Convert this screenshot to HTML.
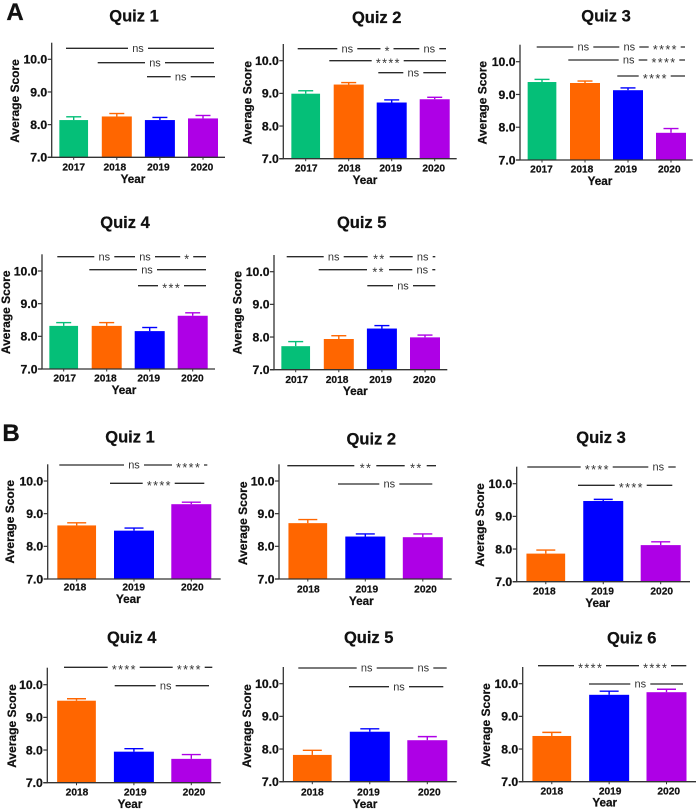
<!DOCTYPE html>
<html lang="en">
<head>
<meta charset="utf-8">
<title>Average quiz scores by year</title>
<style>
html,body{margin:0;padding:0;background:#fff}
svg{display:block;font-family:"Liberation Sans",Arial,sans-serif}
</style>
</head>
<body>
<svg id="figure" xmlns="http://www.w3.org/2000/svg" width="697" height="809" viewBox="0 0 697 809">
<rect width="697" height="809" fill="#fff"/>
<text x="15" y="20" font-size="24" font-weight="bold" text-anchor="middle" fill="#111" stroke="#111" stroke-width="0.3">A</text>
<text x="11" y="441" font-size="24" font-weight="bold" text-anchor="middle" fill="#111" stroke="#111" stroke-width="0.3">B</text>
</svg>
<script>
// ---- Chart data ----
const yearsFour = ["2017", "2018", "2019", "2020"];
const yearsThree = ["2018", "2019", "2020"];
const yTickValues = [7, 8, 9, 10];
const yTickLabels = ["7.0", "8.0", "9.0", "10.0"];

const a1Means = [8.14, 8.25, 8.14, 8.19];
const a1Errors = [0.10, 0.09, 0.08, 0.09];
const a2Means = [8.99, 9.27, 8.72, 8.82];
const a2Errors = [0.09, 0.06, 0.08, 0.06];
const a3Means = [9.38, 9.35, 9.13, 7.83];
const a3Errors = [0.08, 0.06, 0.07, 0.13];
const a4Means = [8.32, 8.32, 8.16, 8.63];
const a4Errors = [0.10, 0.10, 0.11, 0.09];
const a5Means = [7.72, 7.94, 8.26, 7.99];
const a5Errors = [0.14, 0.10, 0.09, 0.07];

const b1Means = [8.64, 8.48, 9.29];
const b1Errors = [0.08, 0.08, 0.06];
const b2Means = [8.71, 8.30, 8.28];
const b2Errors = [0.11, 0.08, 0.10];
const b3Means = [7.86, 9.47, 8.12];
const b3Errors = [0.11, 0.05, 0.10];
const b4Means = [9.51, 7.95, 7.73];
const b4Errors = [0.06, 0.09, 0.13];
const b5Means = [7.82, 8.53, 8.27];
const b5Errors = [0.14, 0.09, 0.11];
const b6Means = [8.40, 9.66, 9.74];
const b6Errors = [0.11, 0.11, 0.09];

const yearColors = {"2017": "#05BF78", "2018": "#FF6600", "2019": "#0000FF", "2020": "#AE00E6"};

// ---- Panel layout (pixels), separate from the data ----
const panels = [
 {id:"a-quiz-1", title:"Quiz 1", cats:yearsFour, means:a1Means, errors:a1Errors,
  ax:51.7, right:225, top:42.7, y7:157.3, y10:59.3, c0:73.7, step:43.1, barW:30, capW:15,
  titleX:134, titleY:15.7, yTitleX:14.7, yTitleY:101, yearX:133, yearY:179, tickY:166.7, tickDx:[0,-2,-1.5,-1],
  brackets:[{y:48.3,x1:66,x2:214,labels:[["ns",138]]},{y:62.7,x1:97.7,x2:214,labels:[["ns",155]]},{y:76.7,x1:147,x2:215,labels:[["ns",180.7]]}]},
 {id:"a-quiz-2", title:"Quiz 2", cats:yearsFour, means:a2Means, errors:a2Errors,
  ax:283.3, right:456.7, top:44, y7:158.7, y10:60.7, c0:305.7, step:43, barW:30, capW:15,
  titleX:376.7, titleY:17.3, yTitleX:247.3, yTitleY:102.7, yearX:365, yearY:180, tickY:168, tickDx:[0.5,0.5,-1,-1],
  brackets:[{y:48.7,x1:297.7,x2:446,labels:[["ns",347.3],["*",387],["ns",429.3]]},{y:60.7,x1:329.3,x2:446,labels:[["****",387.7]]},{y:72.7,x1:378.3,x2:446,labels:[["ns",413.3]]}]},
 {id:"a-quiz-3", title:"Quiz 3", cats:yearsFour, means:a3Means, errors:a3Errors,
  ax:520, right:692.7, top:44.7, y7:160, y10:61.7, c0:542, step:43, barW:30, capW:15,
  titleX:606, titleY:15.7, yTitleX:482.3, yTitleY:102.7, yearX:600, yearY:180.7, tickY:168.7, tickDx:[-0.5,-3,-2.3,-1.7],
  brackets:[{y:47,x1:536.7,x2:685,labels:[["ns",583.3],["ns",629.3],["****",664.7]]},{y:60,x1:568.3,x2:685,labels:[["ns",628.7],["****",663.3]]},{y:76,x1:617.3,x2:685,labels:[["****",654.7]]}]},
 {id:"a-quiz-4", title:"Quiz 4", cats:yearsFour, means:a4Means, errors:a4Errors,
  ax:42, right:215, top:254.3, y7:369, y10:271, c0:63.7, step:43, barW:30, capW:15,
  titleX:125, titleY:222.3, yTitleX:5.7, yTitleY:312.3, yearX:124, yearY:389.7, tickY:378, tickDx:[1,-1.3,-1,-0.3],
  brackets:[{y:256.7,x1:57.3,x2:206,labels:[["ns",104.3],["ns",145],["*",186.7]]},{y:269.7,x1:89.3,x2:206,labels:[["ns",147]]},{y:285.7,x1:138,x2:206,labels:[["***",171]]}]},
 {id:"a-quiz-5", title:"Quiz 5", cats:yearsFour, means:a5Means, errors:a5Errors,
  ax:274, right:447.3, top:255, y7:369.7, y10:271.7, c0:295.7, step:43.1, barW:30, capW:15,
  titleX:361.7, titleY:222.3, yTitleX:237.3, yTitleY:312.7, yearX:355.3, yearY:391, tickY:379.3, tickDx:[1,-1.7,-1.3,-0.7],
  brackets:[{y:256.7,x1:286.7,x2:435.3,labels:[["ns",333.7],["**",378.7],["ns",422.7]]},{y:269.7,x1:318.7,x2:435.3,labels:[["**",378],["ns",422.3]]},{y:285.7,x1:367.3,x2:435.3,labels:[["ns",403]]}]},
 {id:"b-quiz-1", title:"Quiz 1", cats:yearsThree, means:b1Means, errors:b1Errors,
  ax:47.7, right:220.7, top:464.3, y7:579, y10:481, c0:76.7, step:57.3, barW:40, capW:19,
  titleX:130, titleY:436.7, yTitleX:10, yTitleY:521.7, yearX:128.3, yearY:599, tickY:587, tickDx:[-1.7,-0.3,1],
  brackets:[{y:465,x1:59.3,x2:207.3,labels:[["ns",134],["****",188]]},{y:483.3,x1:110,x2:204.3,labels:[["****",158.7]]}]},
 {id:"b-quiz-2", title:"Quiz 2", cats:yearsThree, means:b2Means, errors:b2Errors,
  ax:279, right:451.7, top:464.3, y7:579, y10:481, c0:307.8, step:57.5, barW:40, capW:19,
  titleX:371.3, titleY:438.7, yTitleX:243, yTitleY:523.3, yearX:361.3, yearY:601, tickY:589, tickDx:[0.5,1.5,2.7],
  brackets:[{y:465.7,x1:287.3,x2:436,labels:[["**",365.3],["**",415.7]]},{y:484,x1:338,x2:432.3,labels:[["ns",389.3]]}]},
 {id:"b-quiz-3", title:"Quiz 3", cats:yearsThree, means:b3Means, errors:b3Errors,
  ax:516.7, right:690, top:466.7, y7:581.7, y10:483.7, c0:545.8, step:57.45, barW:40, capW:19,
  titleX:601, titleY:437, yTitleX:480, yTitleY:525, yearX:597.7, yearY:602.7, tickY:591, tickDx:[-1.5,-0.7,1],
  brackets:[{y:467,x1:527.3,x2:675.7,labels:[["****",596.7],["ns",658.3]]},{y:485.3,x1:578,x2:672.3,labels:[["****",630.7]]}]},
 {id:"b-quiz-4", title:"Quiz 4", cats:yearsThree, means:b4Means, errors:b4Errors,
  ax:47.3, right:220.7, top:667.7, y7:782.7, y10:684.7, c0:76.5, step:57.4, barW:40, capW:19,
  titleX:131.7, titleY:637, yTitleX:12, yTitleY:726, yearX:130, yearY:803.7, tickY:791.7, tickDx:[0.5,1.3,2.7],
  brackets:[{y:667.3,x1:64,x2:212.3,labels:[["****",123.7],["****",188.7]]},{y:685.7,x1:114.7,x2:209,labels:[["ns",165.7]]}]},
 {id:"b-quiz-5", title:"Quiz 5", cats:yearsThree, means:b5Means, errors:b5Errors,
  ax:283.3, right:456.7, top:667, y7:781.7, y10:683.7, c0:312.3, step:57.5, barW:40, capW:19,
  titleX:368.7, titleY:637, yTitleX:246.7, yTitleY:726, yearX:365, yearY:803.7, tickY:791.7, tickDx:[0,-1.3,2],
  brackets:[{y:668,x1:298.3,x2:446.7,labels:[["ns",366.7],["ns",423.3]]},{y:686.7,x1:349,x2:443.3,labels:[["ns",399]]}]},
 {id:"b-quiz-6", title:"Quiz 6", cats:yearsThree, means:b6Means, errors:b6Errors,
  ax:522.7, right:696, top:667, y7:781.7, y10:683.7, c0:551.8, step:57.35, barW:40, capW:19,
  titleX:631.7, titleY:637.7, yTitleX:486, yTitleY:725, yearX:604.7, yearY:802.3, tickY:790.7, tickDx:[0,1,2.2],
  brackets:[{y:665.7,x1:538,x2:686.3,labels:[["****",590],["****",655]]},{y:684,x1:589,x2:683,labels:[["ns",640.3]]}]}
];

// ---- Rendering ----
const NS = "http://www.w3.org/2000/svg";
const figure = document.getElementById("figure");
const AXIS_COLOR = "#333";
const LABEL_COLOR = "#111";
const gapWidths = {"ns": 20, "*": 13, "**": 22, "***": 26, "****": 32};

function make(parent, tag, attrs, text) {
  const el = document.createElementNS(NS, tag);
  for (const k in attrs) el.setAttribute(k, attrs[k]);
  if (text !== undefined) el.textContent = text;
  parent.appendChild(el);
  return el;
}

function yScale(p, v) {
  return p.y7 + (v - 7) * (p.y10 - p.y7) / 3;
}

function xScale(p, i) {
  return p.c0 + i * p.step;
}

panels.forEach(function (p) {
  const g = make(figure, "g", {});
  
  

  const title = make(g, "text", {x: p.titleX, y: p.titleY + 5.8, "font-size": 16.5, "font-weight": "bold", "text-anchor": "middle", fill: LABEL_COLOR, stroke: LABEL_COLOR, "stroke-width": 0.25}, p.title);
  
  

  // bars and error bars, drawn through the axis functions
  p.cats.forEach(function (cat, i) {
    const cx = xScale(p, i);
    const color = yearColors[cat];
    const w = cat === "2017" || (i === 0 && p.cats.length === 3) ? p.barW - 1.3 : p.barW;
    const top = yScale(p, p.means[i]);
    const capY = yScale(p, p.means[i] + p.errors[i]);

    const stem = make(g, "line", {x1: cx, x2: cx, y1: top, y2: capY, stroke: color, "stroke-width": 1.4});
    
    

    const cap = make(g, "line", {x1: cx - p.capW / 2, x2: cx + p.capW / 2, y1: capY, y2: capY, stroke: color, "stroke-width": 1.4});
    
    

    const bar = make(g, "rect", {x: cx - w / 2, y: top, width: w, height: yScale(p, 7) - top, fill: color});
    
    

    const tick = make(g, "line", {x1: cx, x2: cx, y1: p.y7, y2: p.y7 + 2.5, stroke: AXIS_COLOR, "stroke-width": 1});
    
    

    const label = make(g, "text", {x: cx + p.tickDx[i], y: p.tickY + 3.7, "font-size": 10.2, "font-weight": "bold", "text-anchor": "middle", fill: LABEL_COLOR, stroke: LABEL_COLOR, "stroke-width": 0.2}, cat);
    
    
  });

  // axes
  const yAxis = make(g, "line", {x1: p.ax, x2: p.ax, y1: p.top, y2: p.y7 + 0.5, stroke: AXIS_COLOR, "stroke-width": 1.3});
  
  

  const xAxis = make(g, "line", {x1: p.ax - 4, x2: p.right, y1: p.y7, y2: p.y7, stroke: AXIS_COLOR, "stroke-width": 1.3});
  
  

  yTickValues.forEach(function (v, i) {
    const y = yScale(p, v);
    const tick = make(g, "line", {x1: p.ax - 4, x2: p.ax, y1: y, y2: y, stroke: AXIS_COLOR, "stroke-width": 1.2});
    
    

    const label = make(g, "text", {x: p.ax - 4.5, y: y + 4.3, "font-size": 12.2, "font-weight": "bold", "text-anchor": "end", fill: LABEL_COLOR, stroke: LABEL_COLOR, "stroke-width": 0.25}, yTickLabels[i]);
    
    
  });

  const xTitle = make(g, "text", {x: p.yearX, y: p.yearY + 4.2, "font-size": 11.7, "font-weight": "bold", "text-anchor": "middle", fill: LABEL_COLOR, stroke: LABEL_COLOR, "stroke-width": 0.25}, "Year");
  
  

  const yTitle = make(g, "text", {transform: "translate(" + (p.yTitleX + 4.2) + " " + p.yTitleY + ") rotate(-90)", "font-size": 12, "font-weight": "bold", "text-anchor": "middle", fill: LABEL_COLOR, stroke: LABEL_COLOR, "stroke-width": 0.25}, "Average Score");
  
  

  // significance brackets
  p.brackets.forEach(function (b, n) {
    const line = make(g, "line", {x1: b.x1, x2: b.x2, y1: b.y, y2: b.y, stroke: "#2a2a2a", "stroke-width": 1.3});
    
    

    b.labels.forEach(function (lab) {
      const gap = gapWidths[lab[0]];
      const mask = make(g, "rect", {x: lab[1] - gap / 2, y: b.y - 2, width: gap, height: 4, fill: "#fff"});
      
      

      const isStars = lab[0] !== "ns";
      const text = make(g, "text", {x: lab[1] + (isStars ? 0.7 : 0), y: b.y + (isStars ? 6.8 : 3.7), "font-size": isStars ? 12.5 : 11, "letter-spacing": isStars ? 1.4 : 0, "text-anchor": "middle", fill: "#333"}, lab[0]);
      
      
    });
  });
});
</script>
</body>
</html>
